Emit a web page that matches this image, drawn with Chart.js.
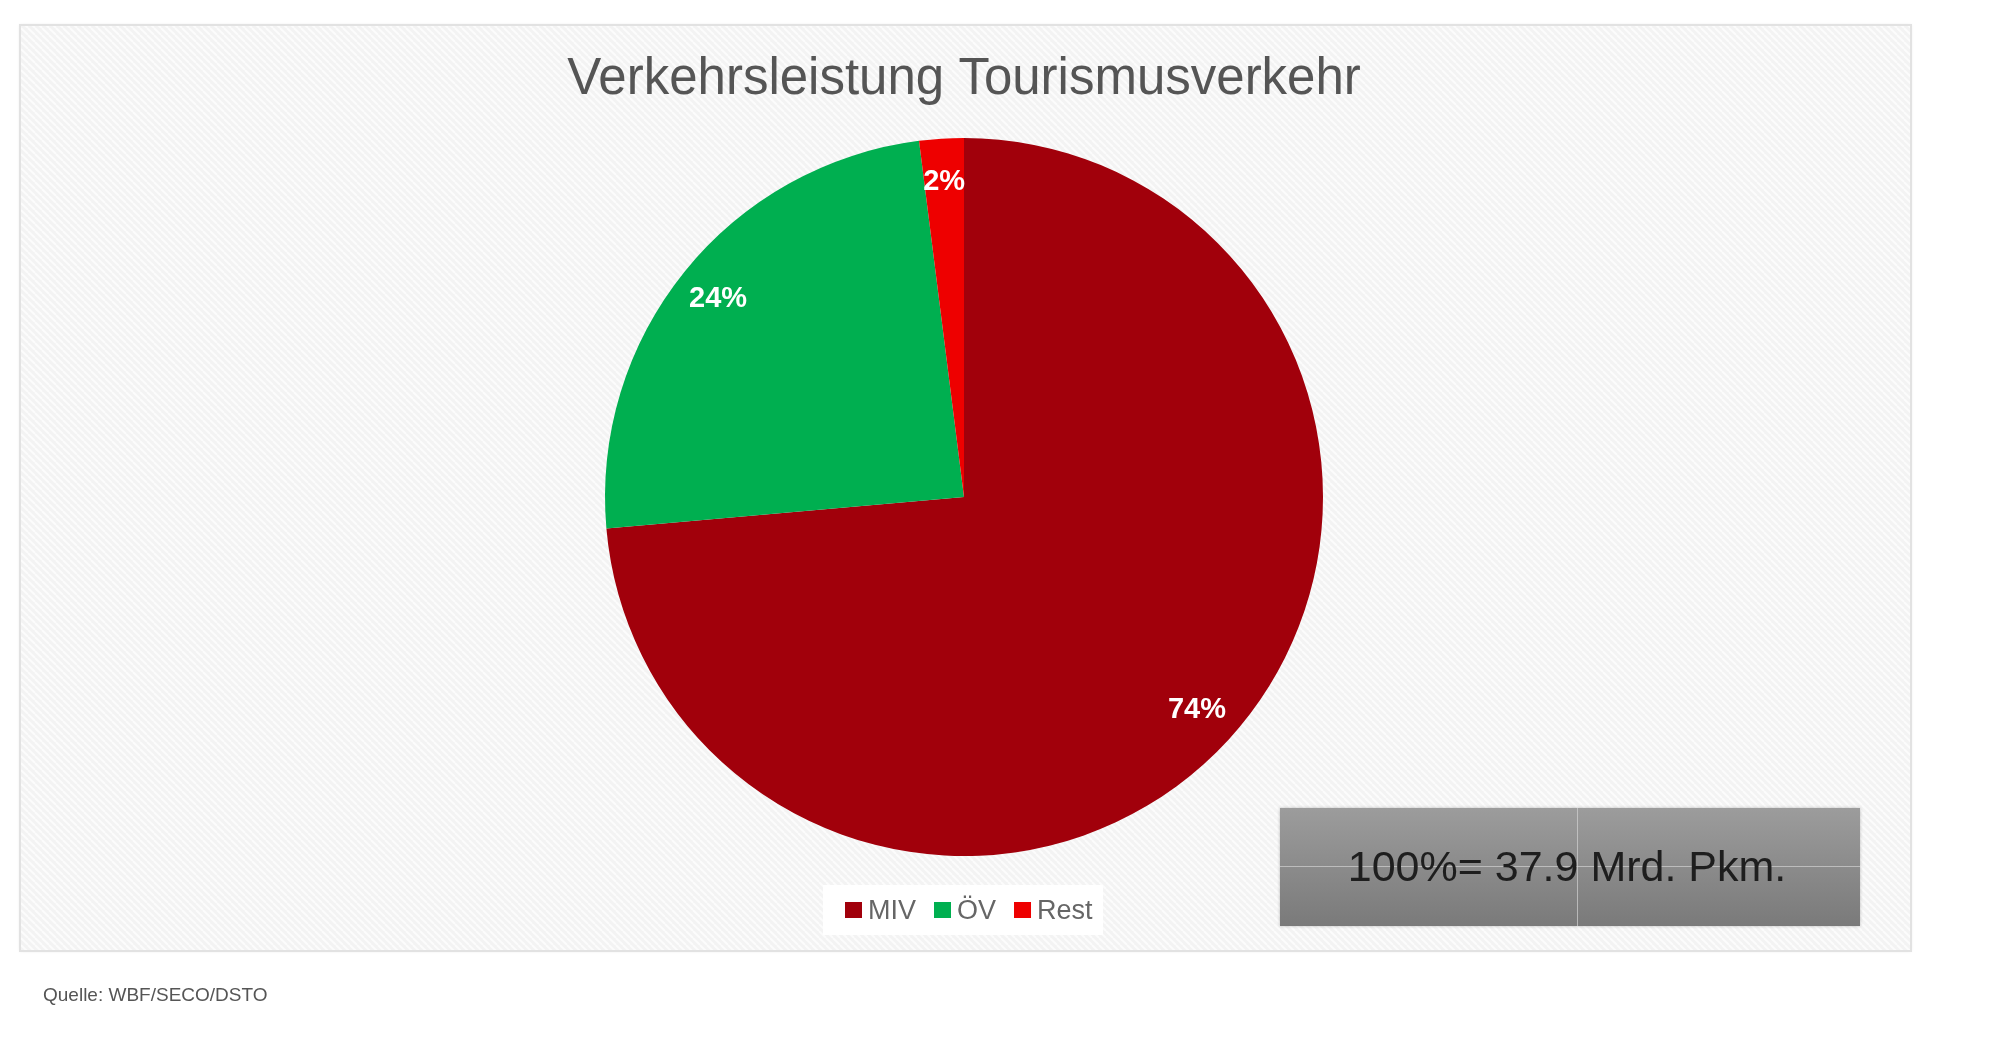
<!DOCTYPE html>
<html>
<head>
<meta charset="utf-8">
<title>Verkehrsleistung Tourismusverkehr</title>
<script src="https://cdn.jsdelivr.net/npm/chart.js@4/dist/chart.umd.min.js"></script>
<style>
html, body { margin: 0; padding: 0; background: #ffffff; }
#wrap { position: relative; width: 2000px; height: 1041px; }
</style>
</head>
<body>
<div id="wrap"><canvas id="pieChart"></canvas></div>
<script>
// daten
const categories = ["MIV", "ÖV", "Rest"];
const shares = [73.6, 24.4, 2.0];
const colors = ["#a1000b", "#00af50", "#ee0000"];

const chartTitle = "Verkehrsleistung Tourismusverkehr";
const totalNote = "100%= 37.9 Mrd. Pkm.";
const sourceNote = "Quelle: WBF/SECO/DSTO";

// schraffierter hintergrund
function hatch(ctx) {
  const p = document.createElement("canvas");
  p.width = 7; p.height = 7;
  const c = p.getContext("2d");
  c.fillStyle = "#f3f3f3";
  c.fillRect(0, 0, 7, 7);
  c.strokeStyle = "#fcfcfc";
  c.lineWidth = 2;
  for (let o = -7; o <= 7; o += 7) {
    c.beginPath();
    c.moveTo(o, 0);
    c.lineTo(o + 7, 7);
    c.stroke();
  }
  return ctx.createPattern(p, "repeat");
}

const framePlugin = {
  id: "frame",
  beforeDraw(chart) {
    const ctx = chart.ctx;
    ctx.save();
    ctx.fillStyle = "#ffffff";
    ctx.fillRect(0, 0, chart.width, chart.height);
    ctx.shadowColor = "rgba(0,0,0,0.12)";
    ctx.shadowBlur = 3;
    ctx.fillStyle = hatch(ctx);
    ctx.fillRect(20, 25, 1891, 926);
    ctx.shadowBlur = 0;
    ctx.strokeStyle = "#e2e2e2";
    ctx.lineWidth = 2;
    ctx.strokeRect(20, 25, 1891, 926);

    // titel
    ctx.fillStyle = "#555555";
    ctx.font = "51px 'Liberation Sans', Arial, sans-serif";
    ctx.textAlign = "center";
    ctx.textBaseline = "middle";
    ctx.fillText(chartTitle, 964, 80);

    // quelle
    ctx.fillStyle = "#555555";
    ctx.font = "19px 'Liberation Sans', Arial, sans-serif";
    ctx.textAlign = "left";
    ctx.fillText(sourceNote, 43, 996);
    ctx.restore();
  },
  afterDraw(chart) {
    const ctx = chart.ctx;
    ctx.save();

    // prozent-labels
    const meta = chart.getDatasetMeta(0);
    ctx.fillStyle = "#ffffff";
    ctx.font = "bold 29px 'Liberation Sans', Arial, sans-serif";
    ctx.textAlign = "center";
    ctx.textBaseline = "middle";
    meta.data.forEach(function(arc, i) {
      const mid = (arc.startAngle + arc.endAngle) / 2;
      const r = arc.outerRadius * 0.88;
      ctx.fillText(Math.round(shares[i]) + "%", arc.x + Math.cos(mid) * r, arc.y + Math.sin(mid) * r);
    });

    // legende
    ctx.fillStyle = "rgba(255,255,255,0.95)";
    ctx.fillRect(823, 885, 280, 50);
    ctx.font = "27px 'Liberation Sans', Arial, sans-serif";
    ctx.textAlign = "left";
    let x = 845;
    categories.forEach(function(cat, i) {
      ctx.fillStyle = colors[i];
      ctx.fillRect(x, 902, 17, 16);
      ctx.fillStyle = "#666666";
      ctx.fillText(cat, x + 23, 912);
      x += 23 + ctx.measureText(cat).width + 18;
    });

    // summen-box
    const g = ctx.createLinearGradient(0, 808, 0, 926);
    g.addColorStop(0, "#9c9c9c");
    g.addColorStop(1, "#7a7a7a");
    ctx.shadowColor = "rgba(0,0,0,0.25)";
    ctx.shadowBlur = 3;
    ctx.fillStyle = g;
    ctx.fillRect(1280, 808, 580, 118);
    ctx.shadowBlur = 0;
    ctx.strokeStyle = "rgba(210,210,210,0.7)";
    ctx.lineWidth = 1;
    ctx.beginPath();
    ctx.moveTo(1280, 866.5); ctx.lineTo(1860, 866.5);
    ctx.moveTo(1577.5, 808); ctx.lineTo(1577.5, 926);
    ctx.stroke();
    ctx.fillStyle = "#1e1e1e";
    ctx.font = "43px 'Liberation Sans', Arial, sans-serif";
    ctx.textAlign = "center";
    ctx.fillText(totalNote, 1567, 869);
    ctx.restore();
  }
};

new Chart(
document.getElementById("pieChart"),
{
type: "pie",
data: {
labels: categories,
datasets: [{
data: shares,
backgroundColor: colors,
borderWidth: 0
}]
},
options: {
responsive: true,
maintainAspectRatio: false,
animation: false,
events: [],
layout: { padding: { left: 0, right: 72, top: 138, bottom: 185 } },
plugins: {
legend: { display: false },
title: { display: false },
tooltip: { enabled: false }
}
},
plugins: [framePlugin]
}
);
</script>
</body>
</html>
